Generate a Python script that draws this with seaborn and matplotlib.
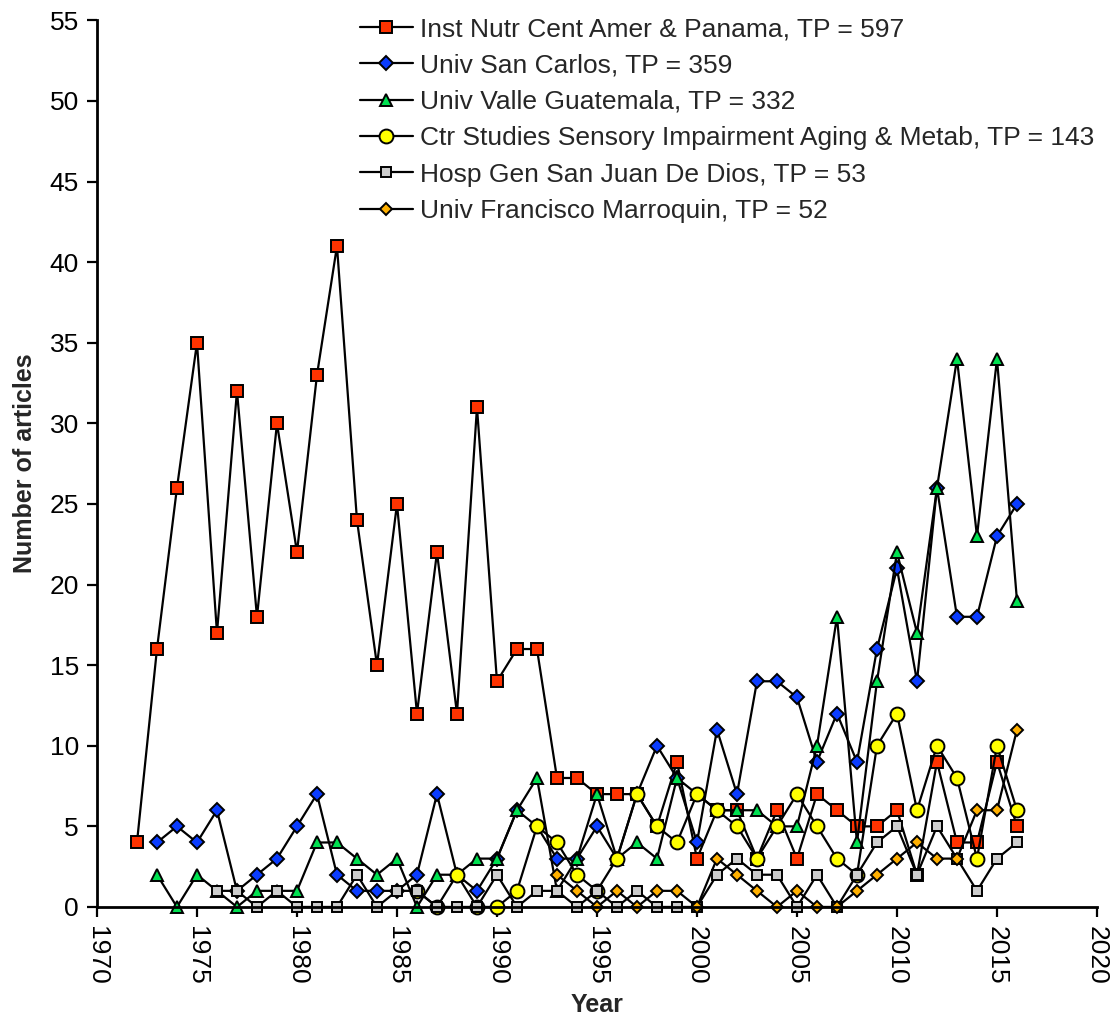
import matplotlib
matplotlib.use("Agg")
import matplotlib.pyplot as plt
import seaborn as sns
import pandas as pd

# ---------------- data ----------------
years_inst = list(range(1972, 2017))
inst_nutr = [4, 16, 26, 35, 17, 32, 18, 30, 22, 33, 41, 24, 15, 25, 12, 22, 12, 31, 14, 16,
             16, 8, 8, 7, 7, 7, 5, 9, 3, 6, 6, 3, 6, 3, 7, 6, 5, 5, 6, 2, 9, 4, 4, 9, 5]

years_usc = list(range(1973, 2017))
univ_san_carlos = [4, 5, 4, 6, 1, 2, 3, 5, 7, 2, 1, 1, 1, 2, 7, 2, 1, 3, 6, 5,
                   3, 3, 5, 3, 7, 10, 8, 4, 11, 7, 14, 14, 13, 9, 12, 9, 16, 21, 14, 26,
                   18, 18, 23, 25]

years_uvg = list(range(1973, 2017))
univ_valle = [2, 0, 2, 1, 0, 1, 1, 1, 4, 4, 3, 2, 3, 0, 2, 2, 3, 3, 6, 8,
              1, 3, 7, 3, 4, 3, 8, 7, 6, 6, 6, 5, 5, 10, 18, 4, 14, 22, 17, 26,
              34, 23, 34, 19]

years_ctr = list(range(1986, 2017))
ctr_studies = [1, 0, 2, 0, 0, 1, 5, 4, 2, 1, 3, 7, 5, 4, 7, 6, 5, 3, 5, 7,
               5, 3, 2, 10, 12, 6, 10, 8, 3, 10, 6]

years_hosp = list(range(1976, 2017))
hosp_gen = [1, 1, 0, 1, 0, 0, 0, 2, 0, 1, 1, 0, 0, 0, 2, 0, 1, 1, 0, 1,
            0, 1, 0, 0, 0, 2, 3, 2, 2, 0, 2, 0, 2, 4, 5, 2, 5, 3, 1, 3, 4]

years_ufm = list(range(1993, 2017))
univ_fm = [2, 1, 0, 1, 0, 1, 1, 0, 3, 2, 1, 0, 1, 0, 0, 1, 2, 3, 4, 3,
           3, 6, 6, 11]

labels = ["Inst Nutr Cent Amer & Panama, TP = 597",
          "Univ San Carlos, TP = 359",
          "Univ Valle Guatemala, TP = 332",
          "Ctr Studies Sensory Impairment Aging & Metab, TP = 143",
          "Hosp Gen San Juan De Dios, TP = 53",
          "Univ Francisco Marroquin, TP = 52"]

x_ticks = list(range(1970, 2021, 5))
y_ticks = list(range(0, 56, 5))

# ---------------- styling ----------------
series = [
    (years_inst, inst_nutr, "s", "#FF3300", 8.0),
    (years_usc, univ_san_carlos, "D", "#0A3CFF", 7.0),
    (years_uvg, univ_valle, "^", "#00E050", 9.0),
    (years_ctr, ctr_studies, "o", "#FFFF00", 10.0),
    (years_hosp, hosp_gen, "s", "#CCCCCC", 6.5),
    (years_ufm, univ_fm, "D", "#FFB000", 6.0),
]

sns.set_style("ticks")
plt.rcParams["font.family"] = ["Liberation Sans", "DejaVu Sans"]

fig = plt.figure(figsize=(11.12, 10.17), dpi=100)
ax = fig.add_axes([0.0872, 0.1082, 0.8993, 0.8718])

for (yrs, vals, mk, col, ms), lab in zip(series, labels):
    df = pd.DataFrame({"Year": yrs, "Articles": vals})
    sns.lineplot(data=df, x="Year", y="Articles", ax=ax, estimator=None, sort=False,
                 color="black", linewidth=1.6, marker=mk, markersize=ms,
                 markerfacecolor=col, markeredgecolor="black", markeredgewidth=1.4,
                 label=lab, clip_on=False)

ax.set_xlim(1970, 2020)
ax.set_ylim(0, 55)
ax.set_xticks(x_ticks)
ax.set_yticks(y_ticks)
ax.set_xticklabels([str(t) for t in x_ticks], rotation=-90, ha="center", va="top")
ax.tick_params(axis="both", direction="out", length=7, width=1.6, labelsize=19,
               colors="black", pad=6)
ax.tick_params(axis="x", pad=7)
for s in ["top", "right"]:
    ax.spines[s].set_visible(False)
for s in ["left", "bottom"]:
    ax.spines[s].set_linewidth(2.0)
    ax.spines[s].set_color("black")

ax.set_xlabel("Year", fontsize=18, fontweight="bold", labelpad=6)
ax.set_ylabel("Number of articles", fontsize=18, fontweight="bold", labelpad=9)

leg = ax.legend(loc="upper left", bbox_to_anchor=(360 / 1112, 1 - 17 / 1017),
                bbox_transform=fig.transFigure, frameon=False, fontsize=19,
                handlelength=2.0, handletextpad=0.27, labelspacing=0.47,
                borderaxespad=0, borderpad=0)

fig.savefig("out.png", dpi=100)
